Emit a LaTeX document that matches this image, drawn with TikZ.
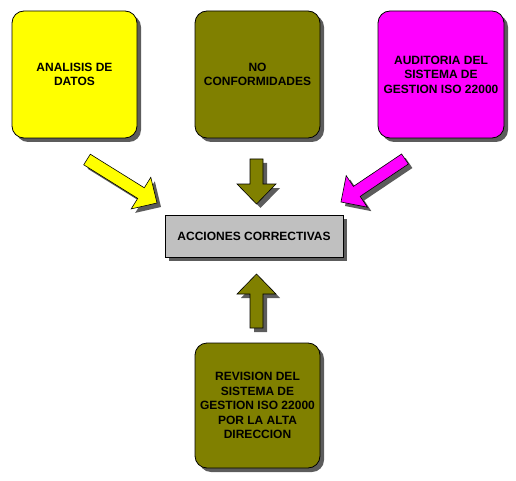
\documentclass[tikz,border=0pt]{standalone}
\usepackage{fontspec}
\newfontfamily\boxfont{Liberation Sans}
\usetikzlibrary{shadows}
\definecolor{olivec}{HTML}{808000}
\definecolor{yellowc}{HTML}{FFFF00}
\definecolor{magentac}{HTML}{FF00FF}
\definecolor{grayc}{HTML}{C0C0C0}
\tikzset{
  shad/.style={drop shadow={shadow xshift=4pt, shadow yshift=-4pt, fill=black!75, opacity=0.85}},
  box/.style={draw=black, line width=0.8pt, rounded corners=12pt, minimum width=125pt, minimum height=127pt,
    inner sep=0pt, align=center, font=\boxfont\bfseries\fontsize{12}{14.5}\selectfont, shad},
  rectbox/.style={draw=black, line width=0.8pt, minimum width=178pt, minimum height=42pt,
    inner sep=0pt, align=center, font=\boxfont\bfseries\fontsize{12}{14.5}\selectfont, shad},
  blockarrow/.style={draw=black, line width=0.6pt, line join=miter, shad},
}
\begin{document}
\begin{tikzpicture}[x=1pt,y=-1pt]
\useasboundingbox (0,0) rectangle (516,481);
% boxes
\node[box, fill=yellowc] (datos) at (74.5,74.5) {ANALISIS DE\\DATOS};
\node[box, fill=olivec] (noconf) at (257.5,74.5) {NO\\CONFORMIDADES};
\node[box, fill=magentac, minimum width=126pt] (audit) at (441,74.5) {AUDITORIA DEL\\SISTEMA DE\\GESTION ISO 22000};
\node[rectbox, fill=grayc] (acciones) at (254,236) {ACCIONES CORRECTIVAS};
\node[box, fill=olivec, minimum height=125pt] (revision) at (257.5,405.5) {REVISION DEL\\SISTEMA DE\\GESTION ISO 22000\\POR LA ALTA\\DIRECCION};
% block arrows
\draw[blockarrow, fill=yellowc] (90.3,154.2) -- (144.3,187.8) -- (150.8,177.3) -- (157,203) -- (131.2,208.9) -- (137.7,198.4) -- (83.7,164.8) -- cycle;
\draw[blockarrow, fill=olivec] (250,159) -- (263,159) -- (263,184) -- (276,184) -- (256.5,204) -- (237,184) -- (250,184) -- cycle;
\draw[blockarrow, fill=magentac] (401.6,154.0) -- (353.4,186.4) -- (346.2,175.6) -- (341,202) -- (367.4,207.2) -- (360.2,196.4) -- (408.4,164.0) -- cycle;
\draw[blockarrow, fill=olivec] (250,328) -- (263,328) -- (263,294) -- (276,294) -- (256.5,274) -- (237,294) -- (250,294) -- cycle;
\end{tikzpicture}
\end{document}
